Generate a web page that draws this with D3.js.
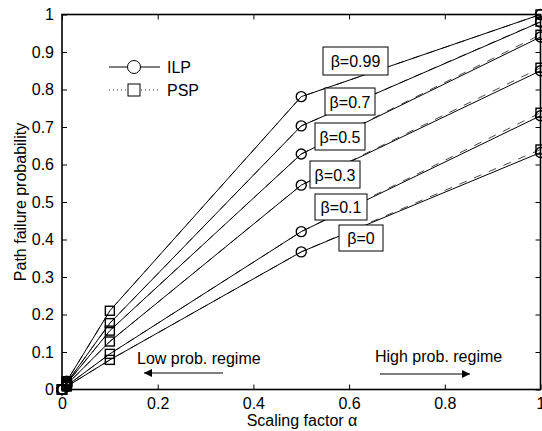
<!DOCTYPE html>
<html>
<head>
<meta charset="utf-8">
<script src="https://cdn.jsdelivr.net/npm/d3@7"></script>
<style>
  body { margin: 0; background: #fff; }
  text { font-family: "Liberation Sans", Arial, sans-serif; fill: #000; }
</style>
</head>
<body>
<div id="chart"></div>
<script>
// scaling factor alpha values
const alphas = [0, 0.01, 0.1, 0.5, 1];
const betas = ["0.99", "0.7", "0.5", "0.3", "0.1", "0"];

// path failure probability, one row per beta
const ilp = [
  [0, 0.022, 0.210, 0.781, 1.000],
  [0, 0.018, 0.177, 0.703, 0.980],
  [0, 0.016, 0.157, 0.628, 0.940],
  [0, 0.013, 0.128, 0.545, 0.850],
  [0, 0.010, 0.095, 0.421, 0.730],
  [0, 0.008, 0.079, 0.367, 0.632]
];
const psp = [
  [0, 0.022, 0.210, 0.781, 1.000],
  [0, 0.018, 0.177, 0.703, 0.981],
  [0, 0.016, 0.157, 0.628, 0.946],
  [0, 0.013, 0.128, 0.545, 0.858],
  [0, 0.010, 0.095, 0.421, 0.738],
  [0, 0.008, 0.079, 0.367, 0.640]
];
// where each series shows its markers
const ilpMarked = [0, 0.01, 0.5, 1];
const pspMarked = [0, 0.01, 0.1, 1];

const xTicks = [0, 0.2, 0.4, 0.6, 0.8, 1];
const yTicks = [0, 0.1, 0.2, 0.3, 0.4, 0.5, 0.6, 0.7, 0.8, 0.9, 1];

const W = 542, H = 431;
const margin = { top: 14.5, right: 1.5, bottom: 41.5, left: 62 };
const fs = "16px";

const svg = d3.select("#chart").append("svg")
  .attr("width", W).attr("height", H);

const x = d3.scaleLinear().domain([0, 1]).range([margin.left, W - margin.right]);
const y = d3.scaleLinear().domain([0, 1]).range([H - margin.bottom, margin.top]);

const fmt = d => String(d);

// axes, inward ticks on all four sides
const tick = 5;
svg.append("g").attr("transform", `translate(0,${y(0)})`)
  .call(d3.axisBottom(x).tickValues(xTicks).tickFormat(fmt).tickSize(-tick).tickPadding(8))
  .call(g => g.select(".domain").remove());
svg.append("g").attr("transform", `translate(${x(0)},0)`)
  .call(d3.axisLeft(y).tickValues(yTicks).tickFormat(fmt).tickSize(-tick).tickPadding(8))
  .call(g => g.select(".domain").remove());
svg.append("g").attr("transform", `translate(0,${y(1)})`)
  .call(d3.axisTop(x).tickValues(xTicks).tickFormat("").tickSize(-tick))
  .call(g => g.select(".domain").remove());
svg.append("g").attr("transform", `translate(${x(1)},0)`)
  .call(d3.axisRight(y).tickValues(yTicks).tickFormat("").tickSize(-tick))
  .call(g => g.select(".domain").remove());
svg.selectAll(".tick text").style("font-size", fs)
  .style("font-family", "Liberation Sans, Arial, sans-serif").attr("fill", "#000");
svg.selectAll(".tick line").attr("stroke", "#000");

svg.append("rect")
  .attr("x", x(0)).attr("y", y(1))
  .attr("width", x(1) - x(0)).attr("height", y(0) - y(1))
  .attr("fill", "none").attr("stroke", "#000").attr("stroke-width", 1.6);

const line = d3.line().x((d, i) => x(alphas[i])).y(d => y(d));

// PSP dashed under ILP solid
svg.append("g").selectAll("path").data(psp).join("path")
  .attr("d", line).attr("fill", "none")
  .attr("stroke", "#333").attr("stroke-width", 0.9).attr("stroke-dasharray", "8,8");
svg.append("g").selectAll("path").data(ilp).join("path")
  .attr("d", line).attr("fill", "none")
  .attr("stroke", "#000").attr("stroke-width", 1);

const pts = (rows, marked) => rows.flatMap(r =>
  alphas.map((a, i) => ({ a, v: r[i] })).filter(p => marked.includes(p.a)));

svg.append("g").selectAll("circle").data(pts(ilp, ilpMarked)).join("circle")
  .attr("cx", d => x(d.a)).attr("cy", d => y(d.v)).attr("r", 5)
  .attr("fill", "none").attr("stroke", "#000").attr("stroke-width", 1.4);
svg.append("g").selectAll("rect").data(pts(psp, pspMarked)).join("rect")
  .attr("x", d => x(d.a) - 4.5).attr("y", d => y(d.v) - 4.5)
  .attr("width", 9).attr("height", 9)
  .attr("fill", "none").attr("stroke", "#000").attr("stroke-width", 1.4);

// beta labels (pixel boxes)
const labelBoxes = [
  { x: 323, y: 47, w: 65, h: 28 },
  { x: 325, y: 88, w: 50, h: 27 },
  { x: 315, y: 123, w: 50, h: 27 },
  { x: 310, y: 161, w: 50, h: 27 },
  { x: 315, y: 194, w: 52, h: 26 },
  { x: 339, y: 225, w: 44, h: 26 }
];
const lab = svg.append("g").selectAll("g").data(betas).join("g")
  .attr("transform", (d, i) => `translate(${labelBoxes[i].x},${labelBoxes[i].y})`);
lab.append("rect")
  .attr("width", (d, i) => labelBoxes[i].w).attr("height", (d, i) => labelBoxes[i].h)
  .attr("fill", "#fff").attr("stroke", "#000").attr("stroke-width", 1);
lab.append("text")
  .attr("x", (d, i) => labelBoxes[i].w / 2).attr("y", (d, i) => labelBoxes[i].h / 2 + 6)
  .attr("text-anchor", "middle").style("font-size", fs)
  .text(d => `β=${d}`);

// legend
const leg = svg.append("g");
leg.append("line").attr("x1", 109).attr("x2", 160).attr("y1", 67).attr("y2", 67)
  .attr("stroke", "#000");
leg.append("circle").attr("cx", 134).attr("cy", 67).attr("r", 6.5)
  .attr("fill", "#fff").attr("stroke", "#000");
leg.append("text").attr("x", 167).attr("y", 73).style("font-size", fs).text("ILP");
leg.append("line").attr("x1", 109).attr("x2", 160).attr("y1", 90).attr("y2", 90)
  .attr("stroke", "#000").attr("stroke-width", 0.8).attr("stroke-dasharray", "1,3");
leg.append("rect").attr("x", 128).attr("y", 84).attr("width", 12).attr("height", 12)
  .attr("fill", "#fff").attr("stroke", "#000");
leg.append("text").attr("x", 167).attr("y", 96).style("font-size", fs).text("PSP");

// regime annotations
const defs = svg.append("defs");
defs.append("marker").attr("id", "head").attr("viewBox", "0 0 10 10")
  .attr("refX", 10).attr("refY", 5).attr("markerWidth", 12).attr("markerHeight", 8)
  .attr("markerUnits", "userSpaceOnUse").attr("orient", "auto")
  .append("path").attr("d", "M0,0L10,5L0,10Z").attr("fill", "#000");
svg.append("line").attr("x1", 223).attr("x2", 144).attr("y1", 373).attr("y2", 373)
  .attr("stroke", "#000").attr("marker-end", "url(#head)");
svg.append("text").attr("x", 137).attr("y", 364).style("font-size", fs).text("Low prob. regime");
svg.append("line").attr("x1", 380).attr("x2", 470).attr("y1", 374).attr("y2", 374)
  .attr("stroke", "#000").attr("marker-end", "url(#head)");
svg.append("text").attr("x", 375).attr("y", 362).style("font-size", fs).text("High prob. regime");

// axis titles
svg.append("text").attr("x", 302).attr("y", 426).attr("text-anchor", "middle")
  .style("font-size", fs).text("Scaling factor α");
svg.append("text").attr("transform", `translate(26,${(y(0) + y(1)) / 2}) rotate(-90)`)
  .attr("text-anchor", "middle").style("font-size", fs).text("Path failure probability");
</script>
</body>
</html>
